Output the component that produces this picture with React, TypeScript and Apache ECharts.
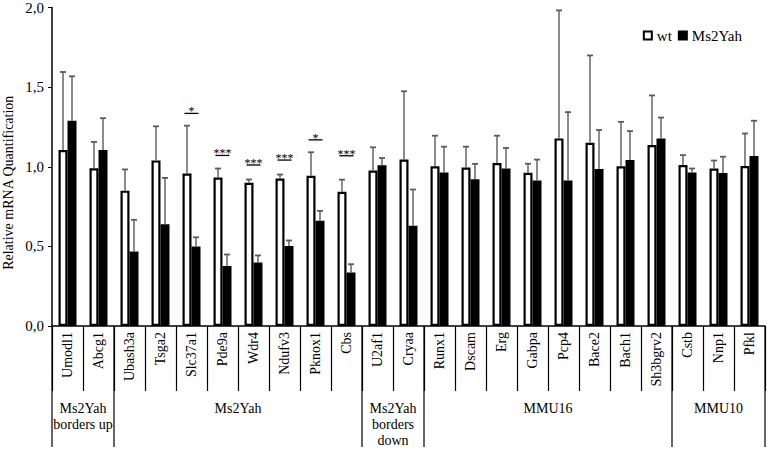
import React, { useEffect, useRef } from "react";
import * as echarts from "echarts";

const genes = ["Umodl1", "Abcg1", "Ubash3a", "Tsga2", "Slc37a1", "Pde9a", "Wdr4", "Ndufv3", "Pknox1", "Cbs", "U2af1", "Cryaa", "Runx1", "Dscam", "Erg", "Gabpa", "Pcp4", "Bace2", "Bach1", "Sh3bgrv2", "Cstb", "Nnp1", "Pfkl"];
const wtMean = [1.105, 0.99, 0.85, 1.04, 0.958, 0.932, 0.9, 0.926, 0.943, 0.843, 0.976, 1.045, 1.003, 0.995, 1.024, 0.962, 1.178, 1.151, 1.003, 1.136, 1.011, 0.989, 1.005];
const wtSD = [0.49, 0.166, 0.133, 0.214, 0.3, 0.057, 0.02, 0.025, 0.148, 0.076, 0.146, 0.429, 0.192, 0.131, 0.171, 0.057, 0.804, 0.548, 0.279, 0.312, 0.062, 0.05, 0.204];
const msMean = [1.289, 1.105, 0.468, 0.639, 0.499, 0.376, 0.399, 0.503, 0.661, 0.336, 1.009, 0.63, 0.964, 0.922, 0.989, 0.914, 0.914, 0.986, 1.043, 1.178, 0.964, 0.961, 1.068];
const msSD = [0.279, 0.2, 0.199, 0.291, 0.058, 0.073, 0.044, 0.034, 0.062, 0.052, 0.046, 0.227, 0.162, 0.096, 0.129, 0.131, 0.429, 0.245, 0.181, 0.131, 0.025, 0.102, 0.221];
const yTicks = [0, 0.5, 1, 1.5, 2];
const sigIndex = [4, 5, 6, 7, 8, 9];
const sigLevel = [1.335, 1.071, 1.011, 1.042, 1.169, 1.069];
const sigText = ["*", "***", "***", "***", "*", "***"];
const groupLabels = ["Ms2Yah\nborders up", "Ms2Yah", "Ms2Yah\nborders\ndown", "MMU16", "MMU10"];
const groupSizes = [2, 8, 2, 8, 3];

const FONT = "Liberation Serif";
const BAR_W = 9;
const ERR_COLOR = "#5b5b5b";

function errorSeries(mean: number[], sd: number[], offset: number) {
  return {
    type: "custom",
    z: 5,
    silent: true,
    itemStyle: { color: ERR_COLOR },
    data: mean.map((m, i) => [i, m, m + sd[i]]),
    encode: { x: 0, y: [1, 2] },
    renderItem: (params: any, api: any) => {
      const base = api.coord([api.value(0), api.value(1)]);
      const top = api.coord([api.value(0), api.value(2)]);
      const x = base[0] + offset;
      return {
        type: "group",
        children: [
          { type: "line", shape: { x1: x, y1: base[1], x2: x, y2: top[1] }, style: { stroke: ERR_COLOR, lineWidth: 1.4 } },
          { type: "line", shape: { x1: x - 3, y1: top[1], x2: x + 3, y2: top[1] }, style: { stroke: ERR_COLOR, lineWidth: 1.8 } },
        ],
      };
    },
  };
}

export default function App() {
  const ref = useRef<HTMLDivElement>(null);
  useEffect(() => {
    if (!ref.current) return;
    const chart = echarts.init(ref.current, null, { renderer: "svg" });
    chart.setOption({
      animation: false,
      textStyle: { fontFamily: FONT, color: "#000" },
      grid: { left: 52, right: 2, top: 7, bottom: 123, containLabel: false },
      legend: {
        data: ["wt", "Ms2Yah"],
        right: 20,
        top: 23,
        itemWidth: 8,
        itemHeight: 8,
        itemGap: 6,
        icon: "rect",
        textStyle: { fontFamily: FONT, fontSize: 15, color: "#000" },
      },
      xAxis: {
        type: "category",
        data: genes,
        axisLine: { lineStyle: { color: "#000", width: 1.5 } },
        axisTick: { show: true, interval: 0, length: 65, lineStyle: { color: "#000", width: 1.2 } },
        axisLabel: { interval: 0, rotate: 90, margin: 6, fontFamily: FONT, fontSize: 14, color: "#000" },
      },
      yAxis: {
        type: "value",
        min: 0,
        max: 2,
        interval: 0.5,
        splitLine: { show: false },
        axisLine: { show: true, lineStyle: { color: "#000", width: 1.5 } },
        axisTick: { show: true, inside: false, length: 4, lineStyle: { color: "#000" } },
        axisLabel: {
          margin: 8,
          fontFamily: FONT,
          fontSize: 15,
          color: "#000",
          formatter: (v: number) => (yTicks.includes(v) ? v.toFixed(1).replace(".", ",") : ""),
        },
      },
      series: [
        {
          name: "wt",
          type: "bar",
          barWidth: BAR_W,
          barGap: "0%",
          itemStyle: { color: "#fff", borderColor: "#000", borderWidth: 2.2 },
          data: wtMean,
        },
        {
          name: "Ms2Yah",
          type: "bar",
          barWidth: BAR_W,
          itemStyle: { color: "#000", borderColor: "#000", borderWidth: 2 },
          data: msMean,
        },
        errorSeries(wtMean, wtSD, -BAR_W / 2),
        errorSeries(msMean, msSD, BAR_W / 2),
        {
          type: "custom",
          z: 6,
          silent: true,
          itemStyle: { color: "#000" },
          data: sigIndex.map((c, k) => [c, sigLevel[k]]),
          encode: { x: 0, y: 1 },
          renderItem: (params: any, api: any) => {
            const p = api.coord([api.value(0), api.value(1)]);
            return {
              type: "group",
              children: [
                { type: "line", shape: { x1: p[0] - 7, y1: p[1], x2: p[0] + 7, y2: p[1] }, style: { stroke: "#000", lineWidth: 1.3 } },
                {
                  type: "text",
                  x: p[0],
                  y: p[1] - 2,
                  style: { text: sigText[params.dataIndex], fontFamily: FONT, fontSize: 12, fill: "#000", align: "center", verticalAlign: "middle" },
                },
              ],
            };
          },
        },
      ],
    });

    const px = (i: number) => chart.convertToPixel({ xAxisIndex: 0 }, genes[i]) as number;
    const band = px(1) - px(0);
    const bx = (k: number) => px(0) - band / 2 + k * band;
    const y0 = chart.convertToPixel({ yAxisIndex: 0 }, 0) as number;
    const yTop = chart.convertToPixel({ yAxisIndex: 0 }, 2) as number;
    const graphics: any[] = [];
    let start = 0;
    const bounds = [0];
    groupSizes.forEach((n, g) => {
      const end = start + n;
      bounds.push(end);
      graphics.push({
        type: "text",
        x: (bx(start) + bx(end)) / 2,
        y: y0 + 74,
        style: { text: groupLabels[g], fontFamily: FONT, fontSize: 14, fill: "#000", align: "center", verticalAlign: "top", lineHeight: 16 },
      });
      start = end;
    });
    bounds.forEach((k) => {
      graphics.push({ type: "line", shape: { x1: bx(k), y1: y0, x2: bx(k), y2: y0 + 121 }, style: { stroke: "#000", lineWidth: 1.2 } });
    });
    graphics.push({
      type: "text",
      x: 8,
      y: (y0 + yTop) / 2 + 16,
      rotation: Math.PI / 2,
      style: { text: "Relative mRNA Quantification", fontFamily: FONT, fontSize: 14, fill: "#000", align: "center", verticalAlign: "middle" },
    });
    chart.setOption({ graphic: graphics });
    return () => chart.dispose();
  }, []);
  return <div ref={ref} style={{ position: "fixed", left: 0, top: 0, width: 767, height: 449, background: "#fff" }} />;
}
